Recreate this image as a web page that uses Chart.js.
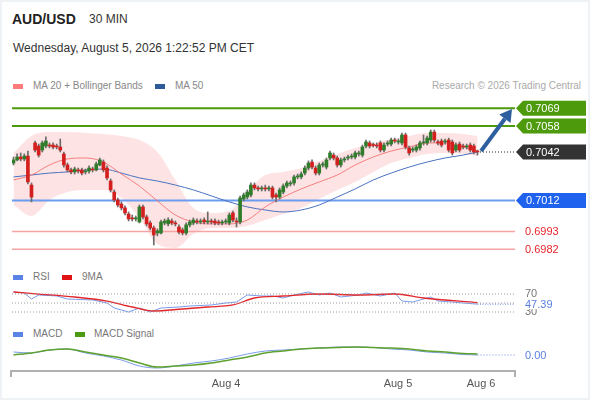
<!DOCTYPE html>
<html>
<head>
<meta charset="utf-8">
<script src="https://cdn.jsdelivr.net/npm/chart.js@4.4.1/dist/chart.umd.min.js"></script>
<style>
  body { margin: 0; background: #fff; font-family: "Liberation Sans", Arial, sans-serif; }
  #card { position: relative; width: 590px; height: 400px; overflow: hidden; box-shadow: inset 0 0 0 2px #eef2f5; }
  #card canvas { position: absolute; left: 0; top: 0; }
  .txt { position: absolute; white-space: nowrap; line-height: 16px; }
  .sw { position: absolute; width: 10px; height: 5px; }
</style>
</head>
<body>
<div id="card">
  <div class="txt" style="left:12px;top:11px;font-size:14px;font-weight:bold;color:#222">AUD/USD</div>
  <div class="txt" style="left:89px;top:11px;font-size:12px;color:#333">30 MIN</div>
  <div class="txt" style="left:13px;top:40px;font-size:12px;color:#333">Wednesday, August 5, 2026 1:22:52 PM CET</div>

  <div class="sw" style="left:13px;top:84px;background:#ff7b7b"></div>
  <div class="txt" style="left:33px;top:78px;font-size:10px;color:#888">MA 20 + Bollinger Bands</div>
  <div class="sw" style="left:155px;top:84px;background:#2f5a9a"></div>
  <div class="txt" style="left:175px;top:78px;font-size:10px;color:#888">MA 50</div>
  <div class="txt" style="right:9px;top:78px;font-size:10px;color:#aaa">Research © 2026 Trading Central</div>

  <div class="sw" style="left:13px;top:275px;background:#5b83e6"></div>
  <div class="txt" style="left:33px;top:269px;font-size:10px;color:#777">RSI</div>
  <div class="sw" style="left:62px;top:275px;background:#e01414"></div>
  <div class="txt" style="left:82px;top:269px;font-size:10px;color:#777">9MA</div>

  <div class="sw" style="left:13px;top:332px;background:#5b83e6"></div>
  <div class="txt" style="left:33px;top:326px;font-size:10px;color:#777">MACD</div>
  <div class="sw" style="left:75px;top:332px;background:#4c9a10"></div>
  <div class="txt" style="left:94px;top:326px;font-size:10px;color:#777">MACD Signal</div>

  <canvas id="priceChart" width="590" height="400"></canvas>
  <canvas id="rsiChart" width="590" height="400"></canvas>
  <canvas id="macdChart" width="590" height="400"></canvas>
</div>
<script>
// 30 min candles
const opens = [
  0.70352, 0.70371, 0.70389, 0.70377, 0.70395, 0.70216, 0.70476, 0.70457, 0.70432, 0.70457,
  0.70463, 0.70463, 0.70457, 0.70451, 0.70408, 0.70340, 0.70309, 0.70297, 0.70309, 0.70309,
  0.70297, 0.70303, 0.70315, 0.70309, 0.70340, 0.70358, 0.70321, 0.70241, 0.70173, 0.70124,
  0.70099, 0.70075, 0.70037, 0.70013, 0.70007, 0.69988, 0.70081, 0.70019, 0.69982, 0.69951,
  0.69920, 0.69920, 0.69982, 0.69976, 0.69994, 0.69982, 0.69957, 0.69939, 0.69920, 0.69970,
  0.69982, 0.69994, 0.69988, 0.70000, 0.69988, 0.69994, 0.69994, 0.69988, 0.69982, 0.69988,
  0.69982, 0.70044, 0.69994, 0.69988, 0.70130, 0.70142, 0.70155, 0.70216, 0.70198, 0.70192,
  0.70198, 0.70192, 0.70198, 0.70155, 0.70142, 0.70173, 0.70210, 0.70223, 0.70229, 0.70266,
  0.70266, 0.70290, 0.70321, 0.70358, 0.70321, 0.70290, 0.70340, 0.70327, 0.70383, 0.70401,
  0.70383, 0.70340, 0.70371, 0.70383, 0.70389, 0.70389, 0.70408, 0.70401, 0.70457, 0.70476,
  0.70463, 0.70463, 0.70476, 0.70432, 0.70469, 0.70469, 0.70494, 0.70482, 0.70476, 0.70525,
  0.70445, 0.70432, 0.70432, 0.70445, 0.70476, 0.70476, 0.70494, 0.70543, 0.70482, 0.70488,
  0.70482, 0.70494, 0.70482, 0.70432, 0.70469, 0.70457, 0.70451, 0.70463, 0.70457, 0.70426
];
const highs = [
  0.70389, 0.70408, 0.70414, 0.70408, 0.70426, 0.70229, 0.70488, 0.70469, 0.70488, 0.70513,
  0.70476, 0.70476, 0.70469, 0.70500, 0.70420, 0.70352, 0.70321, 0.70327, 0.70321, 0.70321,
  0.70315, 0.70334, 0.70327, 0.70358, 0.70383, 0.70371, 0.70334, 0.70254, 0.70186, 0.70136,
  0.70112, 0.70087, 0.70050, 0.70031, 0.70025, 0.70093, 0.70093, 0.70031, 0.69994, 0.69963,
  0.69945, 0.70000, 0.70007, 0.70013, 0.70007, 0.69994, 0.69970, 0.69951, 0.69982, 0.70000,
  0.70013, 0.70007, 0.70007, 0.70013, 0.70050, 0.70007, 0.70007, 0.70000, 0.70000, 0.70007,
  0.70044, 0.70056, 0.70013, 0.70148, 0.70167, 0.70186, 0.70229, 0.70229, 0.70210, 0.70210,
  0.70216, 0.70210, 0.70210, 0.70167, 0.70198, 0.70223, 0.70241, 0.70241, 0.70278, 0.70284,
  0.70297, 0.70334, 0.70365, 0.70371, 0.70334, 0.70352, 0.70358, 0.70383, 0.70426, 0.70414,
  0.70395, 0.70383, 0.70389, 0.70401, 0.70408, 0.70426, 0.70426, 0.70463, 0.70494, 0.70488,
  0.70476, 0.70476, 0.70488, 0.70476, 0.70488, 0.70506, 0.70506, 0.70500, 0.70537, 0.70537,
  0.70457, 0.70451, 0.70463, 0.70488, 0.70525, 0.70519, 0.70556, 0.70556, 0.70494, 0.70500,
  0.70500, 0.70506, 0.70494, 0.70476, 0.70482, 0.70469, 0.70469, 0.70476, 0.70469, 0.70432
];
const lows = [
  0.70340, 0.70365, 0.70365, 0.70365, 0.70223, 0.70112, 0.70420, 0.70389, 0.70420, 0.70445,
  0.70445, 0.70439, 0.70439, 0.70420, 0.70327, 0.70297, 0.70284, 0.70284, 0.70290, 0.70278,
  0.70284, 0.70290, 0.70297, 0.70303, 0.70334, 0.70297, 0.70247, 0.70173, 0.70112, 0.70081,
  0.70062, 0.70031, 0.69994, 0.69994, 0.69994, 0.69982, 0.70007, 0.69963, 0.69939, 0.69846,
  0.69902, 0.69914, 0.69970, 0.69963, 0.69970, 0.69963, 0.69914, 0.69908, 0.69908, 0.69957,
  0.69970, 0.69976, 0.69976, 0.69976, 0.69976, 0.69976, 0.69970, 0.69970, 0.69970, 0.69976,
  0.69970, 0.69988, 0.69957, 0.69976, 0.70118, 0.70130, 0.70142, 0.70186, 0.70179, 0.70179,
  0.70179, 0.70179, 0.70130, 0.70112, 0.70130, 0.70161, 0.70198, 0.70210, 0.70216, 0.70254,
  0.70254, 0.70278, 0.70309, 0.70315, 0.70278, 0.70278, 0.70327, 0.70315, 0.70371, 0.70371,
  0.70327, 0.70327, 0.70358, 0.70371, 0.70377, 0.70377, 0.70395, 0.70389, 0.70445, 0.70445,
  0.70451, 0.70445, 0.70420, 0.70420, 0.70457, 0.70457, 0.70476, 0.70469, 0.70463, 0.70439,
  0.70401, 0.70420, 0.70420, 0.70432, 0.70463, 0.70463, 0.70482, 0.70482, 0.70463, 0.70451,
  0.70469, 0.70420, 0.70401, 0.70420, 0.70420, 0.70439, 0.70439, 0.70420, 0.70408, 0.70401
];
const closes = [
  0.70371, 0.70389, 0.70377, 0.70395, 0.70235, 0.70142, 0.70432, 0.70401, 0.70476, 0.70488,
  0.70457, 0.70451, 0.70451, 0.70432, 0.70340, 0.70309, 0.70297, 0.70315, 0.70303, 0.70290,
  0.70303, 0.70321, 0.70309, 0.70346, 0.70371, 0.70309, 0.70260, 0.70186, 0.70124, 0.70093,
  0.70075, 0.70044, 0.70007, 0.70007, 0.70013, 0.70081, 0.70019, 0.69976, 0.69951, 0.69908,
  0.69933, 0.69988, 0.69994, 0.70000, 0.69982, 0.69976, 0.69926, 0.69920, 0.69970, 0.69988,
  0.70000, 0.69988, 0.69994, 0.69988, 0.69994, 0.69988, 0.69982, 0.69982, 0.69988, 0.69994,
  0.70031, 0.70000, 0.69988, 0.70136, 0.70155, 0.70173, 0.70216, 0.70198, 0.70192, 0.70198,
  0.70192, 0.70198, 0.70142, 0.70142, 0.70186, 0.70210, 0.70229, 0.70229, 0.70266, 0.70272,
  0.70284, 0.70321, 0.70352, 0.70327, 0.70290, 0.70340, 0.70346, 0.70371, 0.70414, 0.70383,
  0.70340, 0.70371, 0.70377, 0.70389, 0.70395, 0.70414, 0.70414, 0.70451, 0.70482, 0.70457,
  0.70460, 0.70457, 0.70432, 0.70463, 0.70476, 0.70494, 0.70488, 0.70488, 0.70525, 0.70451,
  0.70414, 0.70439, 0.70451, 0.70476, 0.70482, 0.70506, 0.70543, 0.70494, 0.70476, 0.70463,
  0.70488, 0.70432, 0.70414, 0.70463, 0.70432, 0.70451, 0.70457, 0.70432, 0.70420, 0.70420
];

// indicator samples (candle index -> value)
const lineIdx = [0, 5, 10, 15, 20, 25, 30, 35, 40, 45, 50, 55, 60, 65, 70, 75, 80, 85, 90, 95, 100, 105, 110, 115, 120, 125, 129];
const ma20 = [0.70247, 0.70278, 0.70340, 0.70377, 0.70383, 0.70358, 0.70284, 0.70210, 0.70118, 0.70031, 0.69988, 0.69976, 0.69976, 0.70000, 0.70081, 0.70142, 0.70192, 0.70235, 0.70278, 0.70340, 0.70389, 0.70426, 0.70451, 0.70476, 0.70476, 0.70451, 0.70426];
const bbUpper = [0.70414, 0.70519, 0.70543, 0.70543, 0.70537, 0.70531, 0.70519, 0.70494, 0.70420, 0.70247, 0.70075, 0.70044, 0.70056, 0.70173, 0.70278, 0.70297, 0.70321, 0.70365, 0.70408, 0.70445, 0.70476, 0.70500, 0.70519, 0.70537, 0.70537, 0.70531, 0.70519];
const bbLower = [0.70093, 0.70025, 0.70124, 0.70173, 0.70186, 0.70186, 0.70136, 0.70013, 0.69852, 0.69828, 0.69914, 0.69951, 0.69951, 0.69963, 0.70000, 0.70037, 0.70075, 0.70130, 0.70186, 0.70235, 0.70297, 0.70352, 0.70383, 0.70408, 0.70414, 0.70408, 0.70395];
const ma50 = [0.70266, 0.70278, 0.70290, 0.70297, 0.70309, 0.70315, 0.70290, 0.70260, 0.70241, 0.70216, 0.70186, 0.70149, 0.70112, 0.70081, 0.70062, 0.70050, 0.70062, 0.70093, 0.70142, 0.70192, 0.70247, 0.70290, 0.70327, 0.70358, 0.70383, 0.70401, 0.70420];

const resistLevels = [0.7069, 0.7058];
const lastPrice = 0.7042;
const supportLevel = 0.7012;
const lowerLevels = [0.6993, 0.6982];
const arrowFrom = [130.0, 0.70426];
const arrowTo = [138.6, 0.70685];

const rsiIdx = [0, 3, 5, 7, 12, 15, 22, 26, 28, 32, 35, 38, 41, 46, 49, 55, 59, 62, 65, 69, 72, 75, 78, 82, 85, 88, 91, 96, 98, 102, 106, 108, 111, 116, 118, 122, 125, 129];
const rsiVals = [74.4, 72.2, 58.9, 67.8, 65.6, 58.9, 56.7, 50.0, 38.9, 30.0, 38.9, 30.0, 38.9, 41.1, 43.3, 45.6, 50.0, 52.2, 67.8, 65.6, 65.6, 61.1, 67.8, 74.4, 67.8, 72.2, 63.3, 67.8, 72.2, 65.6, 72.2, 54.4, 52.2, 63.3, 54.4, 52.2, 50.0, 47.39];
const rsiMaIdx = [0, 7, 17, 26, 33, 39, 47, 54, 61, 67, 75, 85, 96, 106, 114, 129];
const rsiMaVals = [74.4, 69.9, 63.3, 54.4, 41.1, 32.2, 36.7, 41.1, 45.6, 61.1, 65.6, 70.0, 67.8, 70.0, 61.1, 51.0];
const rsiLevels = [70, 50, 30];
const rsiLast = 47.39;

const macdVals = [0.00006, 0.00004, 0.00010, 0.00012, 0.00004, -0.00002, -0.00010, -0.00022, -0.00026, -0.00022, -0.00016, -0.00012, -0.00006, 0.00002, 0.00008, 0.00010, 0.00012, 0.00014, 0.00016, 0.00016, 0.00015, 0.00012, 0.00010, 0.00006, 0.00004, 0.00001, 0.00000];
const signalVals = [0.00000, 0.00004, 0.00010, 0.00012, 0.00006, 0.00000, -0.00006, -0.00016, -0.00024, -0.00022, -0.00020, -0.00016, -0.00010, -0.00004, 0.00004, 0.00008, 0.00012, 0.00014, 0.00015, 0.00016, 0.00015, 0.00014, 0.00012, 0.00008, 0.00006, 0.00003, 0.00002];
const macdLast = 0.00;

const dayTicks = [59.1, 106.9, 130];
const dayLabels = ['Aug 4', 'Aug 5', 'Aug 6'];

const X_MIN = -0.42, X_MAX = 139.43;
const FONT = '11px "Liberation Sans", Arial, sans-serif';
const lastIdx = closes.length - 1;

const pts = (idx, vals) => idx.map((x, k) => ({ x, y: vals[k] }));
const hline = (y, x0 = X_MIN, x1 = X_MAX) => [{ x: x0, y }, { x: x1, y }];

function baseOptions(top, bottom, yMin, yMax) {
  return {
    responsive: false,
    animation: false,
    events: [],
    layout: { padding: { left: 12, right: 75, top, bottom } },
    plugins: { legend: { display: false }, tooltip: { enabled: false } },
    scales: {
      x: { type: 'linear', min: X_MIN, max: X_MAX, offset: false, display: false },
      y: { type: 'linear', min: yMin, max: yMax, display: false }
    }
  };
}

// price panel: tags on the right + forecast arrow
const priceTags = {
  id: 'priceTags',
  afterDatasetsDraw(chart) {
    const { ctx, chartArea, scales: { x, y } } = chart;
    const tip = chartArea.right + 1;
    ctx.save();
    ctx.font = FONT;
    ctx.textBaseline = 'middle';
    const tag = (v, bg) => {
      const py = y.getPixelForValue(v);
      ctx.fillStyle = bg;
      ctx.beginPath();
      ctx.moveTo(tip, py);
      ctx.lineTo(tip + 7, py - 7.5);
      ctx.lineTo(586, py - 7.5);
      ctx.lineTo(586, py + 7.5);
      ctx.lineTo(tip + 7, py + 7.5);
      ctx.closePath();
      ctx.fill();
      ctx.fillStyle = '#fff';
      ctx.fillText(v.toFixed(4), tip + 10, py + 0.5);
    };
    resistLevels.forEach(v => tag(v, '#4d9a0c'));
    tag(lastPrice, '#333333');
    tag(supportLevel, '#1f62ee');
    ctx.fillStyle = '#e8262b';
    lowerLevels.forEach(v => ctx.fillText(v.toFixed(4), tip + 9, y.getPixelForValue(v) + 0.5));

    const x0 = x.getPixelForValue(arrowFrom[0]), y0 = y.getPixelForValue(arrowFrom[1]);
    const x1 = x.getPixelForValue(arrowTo[0]), y1 = y.getPixelForValue(arrowTo[1]);
    const a = Math.atan2(y1 - y0, x1 - x0);
    const hl = 12, hw = 7;
    const bx = x1 - hl * Math.cos(a), by = y1 - hl * Math.sin(a);
    ctx.strokeStyle = '#2e5f9e';
    ctx.fillStyle = '#2e5f9e';
    ctx.lineWidth = 4;
    ctx.beginPath();
    ctx.moveTo(x0, y0);
    ctx.lineTo(bx, by);
    ctx.stroke();
    ctx.beginPath();
    ctx.moveTo(x1, y1);
    ctx.lineTo(bx + hw * Math.sin(a), by - hw * Math.cos(a));
    ctx.lineTo(bx - hw * Math.sin(a), by + hw * Math.cos(a));
    ctx.closePath();
    ctx.fill();
    ctx.restore();
  }
};

new Chart(document.getElementById('priceChart'), {
  type: 'bar',
  data: {
    datasets: [
      { type: 'bar', data: lows.map((l, i) => ({ x: i, y: [l, highs[i]] })),
        backgroundColor: '#6b6b6b', barThickness: 1, grouped: false, order: 1 },
      { type: 'bar', data: opens.map((o, i) => ({ x: i, y: [o, closes[i]] })),
        backgroundColor: opens.map((o, i) => closes[i] >= o ? '#2f7d2a' : '#d3201f'),
        barThickness: 3, minBarLength: 1, grouped: false, order: 0 },
      { type: 'line', data: pts(lineIdx, bbUpper), borderColor: 'transparent', pointRadius: 0,
        fill: '+1', backgroundColor: 'rgba(248,170,170,0.33)', cubicInterpolationMode: 'monotone', order: 6 },
      { type: 'line', data: pts(lineIdx, bbLower), borderColor: 'transparent', pointRadius: 0,
        fill: false, cubicInterpolationMode: 'monotone', order: 6 },
      { type: 'line', data: pts(lineIdx, ma20), borderColor: 'rgba(242,110,110,0.85)', borderWidth: 1,
        pointRadius: 0, cubicInterpolationMode: 'monotone', order: 2 },
      { type: 'line', data: pts(lineIdx, ma50), borderColor: '#4a72c0', borderWidth: 1,
        pointRadius: 0, cubicInterpolationMode: 'monotone', order: 2 },
      ...resistLevels.map(v => ({ type: 'line', data: hline(v), borderColor: '#4d9a0c', borderWidth: 2, pointRadius: 0, order: 3 })),
      { type: 'line', data: hline(supportLevel), borderColor: '#6c9cf0', borderWidth: 2, pointRadius: 0, order: 3 },
      ...lowerLevels.map(v => ({ type: 'line', data: hline(v), borderColor: '#f6a3a3', borderWidth: 1.5, pointRadius: 0, order: 3 })),
      { type: 'line', data: hline(lastPrice, lastIdx + 0.7), borderColor: '#222', borderWidth: 1,
        borderDash: [1, 2], pointRadius: 0, order: 3 }
    ]
  },
  options: baseOptions(95, 140, 0.697533, 0.707719),
  plugins: [priceTags]
});

// RSI panel
const rsiTags = {
  id: 'rsiTags',
  afterDatasetsDraw(chart) {
    const { ctx, chartArea, scales: { y } } = chart;
    const lx = chartArea.right + 10;
    ctx.save();
    ctx.font = FONT;
    ctx.textBaseline = 'middle';
    ctx.fillStyle = '#777';
    ctx.fillText('70', lx, y.getPixelForValue(70));
    ctx.fillText('30', lx, y.getPixelForValue(30));
    const py = y.getPixelForValue(rsiLast);
    ctx.fillStyle = '#fff';
    ctx.fillRect(lx - 1, py - 6, 34, 11);
    ctx.fillStyle = '#5b7fe0';
    ctx.fillText(rsiLast.toFixed(2), lx, py + 0.5);
    ctx.restore();
  }
};

new Chart(document.getElementById('rsiChart'), {
  type: 'line',
  data: {
    datasets: [
      ...rsiLevels.map(v => ({ data: hline(v), borderColor: '#9a9a9a', borderWidth: 1, borderDash: [1, 2], pointRadius: 0 })),
      { data: hline(rsiLast, lastIdx, X_MAX), borderColor: '#6e8fe6', borderWidth: 1, borderDash: [1, 1.5], pointRadius: 0 },
      { data: pts(rsiMaIdx, rsiMaVals), borderColor: '#e3262a', borderWidth: 1.3, pointRadius: 0, cubicInterpolationMode: 'monotone' },
      { data: pts(rsiIdx, rsiVals), borderColor: '#7b9be8', borderWidth: 1, pointRadius: 0 }
    ]
  },
  options: baseOptions(285, 79, 10, 90),
  plugins: [rsiTags]
});

// MACD panel + time axis
const macdTags = {
  id: 'macdTags',
  afterDatasetsDraw(chart) {
    const { ctx, chartArea, scales: { x, y } } = chart;
    ctx.save();
    ctx.font = FONT;
    ctx.textBaseline = 'middle';
    ctx.fillStyle = '#5b7fe0';
    ctx.fillText(macdLast.toFixed(2), chartArea.right + 10, y.getPixelForValue(macdLast) + 0.5);

    const yb = chartArea.bottom;
    ctx.strokeStyle = '#b0b0b0';
    ctx.lineWidth = 2;
    ctx.beginPath();
    ctx.moveTo(chartArea.left - 1, yb);
    ctx.lineTo(chartArea.right, yb);
    ctx.stroke();
    ctx.fillStyle = '#b0b0b0';
    ctx.fillRect(chartArea.left - 2, yb - 1, 2, 7);
    ctx.fillRect(chartArea.right - 1, yb - 1, 2, 7);

    ctx.fillStyle = '#555';
    ctx.textAlign = 'center';
    dayTicks.forEach((t, k) => ctx.fillText(dayLabels[k], x.getPixelForValue(t), yb + 13));
    ctx.restore();
  }
};

new Chart(document.getElementById('macdChart'), {
  type: 'line',
  data: {
    datasets: [
      { data: hline(macdLast, lastIdx, X_MAX), borderColor: '#6e8fe6', borderWidth: 1, borderDash: [1, 2], pointRadius: 0 },
      { data: pts(lineIdx, signalVals), borderColor: '#5ea22d', borderWidth: 1.5, pointRadius: 0, cubicInterpolationMode: 'monotone' },
      { data: pts(lineIdx, macdVals), borderColor: '#7b9be8', borderWidth: 1, pointRadius: 0, cubicInterpolationMode: 'monotone' }
    ]
  },
  options: baseOptions(340, 29, -0.00032, 0.0003),
  plugins: [macdTags]
});
</script>
</body>
</html>
